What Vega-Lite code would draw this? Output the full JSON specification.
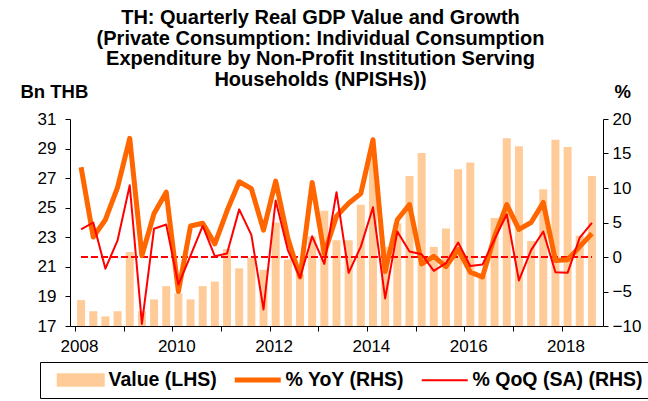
{
  "$schema": "https://vega.github.io/schema/vega-lite/v6.json",
  "width": 533,
  "height": 207,
  "autosize": {"type": "none"},
  "padding": {"left": 70, "top": 119, "right": 45, "bottom": 75},
  "background": "white",
  "config": {
    "view": {"stroke": null},
    "font": "Liberation Sans",
    "axis": {"labelFont": "Liberation Sans", "labelFontSize": 17, "labelColor": "black", "domainColor": "black", "tickColor": "black", "grid": false, "domainWidth": 1, "tickWidth": 1, "titleFont": "Liberation Sans", "titleColor": "black"}
  },
  "title": {
    "text": ["TH: Quarterly Real GDP Value and Growth", "(Private Consumption: Individual Consumption", "Expenditure by Non-Profit Institution Serving", "Households (NPISHs))"],
    "anchor": "middle",
    "frame": "group",
    "dx": -16,
    "offset": -8,
    "fontSize": 20,
    "fontWeight": "bold",
    "lineHeight": 20.7,
    "color": "black",
    "font": "Liberation Sans"
  },
  "data": {
    "values": [
      {"t": 2008.125, "value": 18.75, "yoy": 13.0, "qoq": 4.0},
      {"t": 2008.375, "value": 18.0, "yoy": 2.9, "qoq": 5.0},
      {"t": 2008.625, "value": 17.65, "yoy": 5.4, "qoq": -1.7},
      {"t": 2008.875, "value": 18.0, "yoy": 10.1, "qoq": 2.4},
      {"t": 2009.125, "value": 22.0, "yoy": 17.2, "qoq": 10.4},
      {"t": 2009.375, "value": 18.0, "yoy": 0.2, "qoq": -9.7},
      {"t": 2009.625, "value": 18.8, "yoy": 6.3, "qoq": 4.1},
      {"t": 2009.875, "value": 19.7, "yoy": 9.4, "qoq": 4.7},
      {"t": 2010.125, "value": 19.2, "yoy": -5.0, "qoq": -4.0},
      {"t": 2010.375, "value": 18.8, "yoy": 4.5, "qoq": 0.2},
      {"t": 2010.625, "value": 19.7, "yoy": 4.9, "qoq": 4.5},
      {"t": 2010.875, "value": 20.0, "yoy": 1.9, "qoq": 0.1},
      {"t": 2011.125, "value": 22.2, "yoy": 6.7, "qoq": 0.5},
      {"t": 2011.375, "value": 20.9, "yoy": 10.9, "qoq": 6.9},
      {"t": 2011.625, "value": 21.6, "yoy": 9.9, "qoq": 3.2},
      {"t": 2011.875, "value": 20.8, "yoy": 3.9, "qoq": -7.6},
      {"t": 2012.125, "value": 24.0, "yoy": 11.0, "qoq": 8.2},
      {"t": 2012.375, "value": 21.5, "yoy": 2.7, "qoq": 1.0},
      {"t": 2012.625, "value": 20.5, "yoy": -2.9, "qoq": -3.0},
      {"t": 2012.875, "value": 23.05, "yoy": 10.8, "qoq": 3.0},
      {"t": 2013.125, "value": 24.8, "yoy": 0.5, "qoq": -1.0},
      {"t": 2013.375, "value": 22.8, "yoy": 5.9, "qoq": 9.4},
      {"t": 2013.625, "value": 22.8, "yoy": 7.8, "qoq": -2.3},
      {"t": 2013.875, "value": 25.2, "yoy": 9.2, "qoq": 1.5},
      {"t": 2014.125, "value": 28.5, "yoy": 17.0, "qoq": 7.2},
      {"t": 2014.375, "value": 22.35, "yoy": -2.1, "qoq": -6.0},
      {"t": 2014.625, "value": 23.95, "yoy": 5.4, "qoq": 3.7},
      {"t": 2014.875, "value": 27.15, "yoy": 7.6, "qoq": 0.8},
      {"t": 2015.125, "value": 28.7, "yoy": -1.0, "qoq": 0.4},
      {"t": 2015.375, "value": 22.35, "yoy": 0.1, "qoq": -2.0},
      {"t": 2015.625, "value": 23.6, "yoy": -1.4, "qoq": -0.9},
      {"t": 2015.875, "value": 27.6, "yoy": 1.1, "qoq": 2.1},
      {"t": 2016.125, "value": 28.05, "yoy": -2.2, "qoq": -1.3},
      {"t": 2016.375, "value": 20.4, "yoy": -2.9, "qoq": -1.1},
      {"t": 2016.625, "value": 24.3, "yoy": 3.0, "qoq": 2.6},
      {"t": 2016.875, "value": 29.7, "yoy": 7.6, "qoq": 6.2},
      {"t": 2017.125, "value": 29.15, "yoy": 4.0, "qoq": -3.4},
      {"t": 2017.375, "value": 22.75, "yoy": 5.0, "qoq": 1.0},
      {"t": 2017.625, "value": 26.25, "yoy": 7.9, "qoq": 3.7},
      {"t": 2017.875, "value": 29.6, "yoy": -0.5, "qoq": -2.2},
      {"t": 2018.125, "value": 29.1, "yoy": -0.4, "qoq": -2.3},
      {"t": 2018.375, "value": 23.1, "yoy": 1.5, "qoq": 2.8},
      {"t": 2018.625, "value": 27.15, "yoy": 3.4, "qoq": 4.95}
    ]
  },
  "encoding": {
    "x": {
      "field": "t",
      "type": "quantitative",
      "scale": {"domain": [2008, 2018.75], "nice": false, "zero": false},
      "axis": {"values": [2008, 2009, 2010, 2011, 2012, 2013, 2014, 2015, 2016, 2017, 2018], "labelExpr": "datum.value % 2 == 0 ? datum.value : ''", "title": null, "tickSize": 5, "labelPadding": 7, "labelOffset": 4}
    }
  },
  "layer": [
    {
      "mark": {"type": "bar", "size": 8},
      "encoding": {
        "y": {
          "field": "value",
          "type": "quantitative",
          "scale": {"domain": [17, 31], "zero": false, "nice": false},
          "axis": {"values": [17, 19, 21, 23, 25, 27, 29, 31], "title": "Bn THB", "titleAngle": 0, "titleX": -50, "titleY": -28, "titleAlign": "left", "titleBaseline": "middle", "titleFontSize": 18.5, "titleFontWeight": "bold", "tickSize": 5, "labelPadding": 9}
        },
        "y2": {"datum": 17},
        "color": {
          "datum": "Value (LHS)",
          "type": "nominal",
          "scale": {"domain": ["Value (LHS)", "% YoY (RHS)", "% QoQ (SA) (RHS)"], "range": ["#FFCC99", "#FF6600", "#FF0000"]},
          "legend": {
            "orient": "none",
            "legendX": -30,
            "legendY": 243,
            "direction": "horizontal",
            "columns": 3,
            "title": null,
            "strokeColor": "black",
            "padding": 8,
            "labelFontSize": 19.5,
            "labelFontWeight": "bold",
            "labelFont": "Liberation Sans",
            "labelColor": "black",
            "labelLimit": 400,
            "symbolSize": 324,
            "labelOffset": 41,
            "columnPadding": 7,
            "encode": {
              "symbols": {
                "update": {
                  "shape": {"signal": "datum.value == 'Value (LHS)' ? 'M0,-0.64H5.11V0.64H0Z' : 'M0,0H5.11'"},
                  "fill": {"signal": "datum.value == 'Value (LHS)' ? '#FFCC99' : 'transparent'"},
                  "stroke": {"signal": "datum.value == 'Value (LHS)' ? 'transparent' : (datum.value == '% YoY (RHS)' ? '#FF6600' : '#FF0000')"},
                  "strokeWidth": {"signal": "datum.value == '% YoY (RHS)' ? 5 : 2"},
                  "opacity": {"value": 1}
                }
              }
            }
          }
        }
      }
    },
    {
      "layer": [
        {
          "mark": {"type": "rule", "color": "#FF0000", "strokeDash": [6, 4], "strokeWidth": 2},
          "encoding": {
            "x": {"datum": 2008.125},
            "x2": {"datum": 2018.625},
            "y": {"datum": 0, "type": "quantitative", "scale": {"domain": [-10, 20], "nice": false, "zero": false}, "axis": {"orient": "right", "values": [-10, -5, 0, 5, 10, 15, 20], "title": "%", "titleAngle": 0, "titleX": 11, "titleY": -28, "titleAlign": "left", "titleBaseline": "middle", "titleFontSize": 18.5, "titleFontWeight": "bold", "tickSize": 5, "labelPadding": 4}}
          }
        },
        {
          "mark": {"type": "line", "strokeWidth": 5, "strokeJoin": "round"},
          "encoding": {
            "y": {"field": "yoy", "type": "quantitative", "scale": {"domain": [-10, 20], "nice": false, "zero": false}, "axis": {"orient": "right", "values": [-10, -5, 0, 5, 10, 15, 20], "title": "%", "titleAngle": 0, "titleX": 11, "titleY": -28, "titleAlign": "left", "titleBaseline": "middle", "titleFontSize": 18.5, "titleFontWeight": "bold", "tickSize": 5, "labelPadding": 4}},
            "color": {"datum": "% YoY (RHS)", "type": "nominal"}
          }
        },
        {
          "mark": {"type": "line", "strokeWidth": 2, "strokeJoin": "round"},
          "encoding": {
            "y": {"field": "qoq", "type": "quantitative", "scale": {"domain": [-10, 20], "nice": false, "zero": false}, "axis": {"orient": "right", "values": [-10, -5, 0, 5, 10, 15, 20], "title": "%", "titleAngle": 0, "titleX": 11, "titleY": -28, "titleAlign": "left", "titleBaseline": "middle", "titleFontSize": 18.5, "titleFontWeight": "bold", "tickSize": 5, "labelPadding": 4}},
            "color": {"datum": "% QoQ (SA) (RHS)", "type": "nominal"}
          }
        }
      ]
    }
  ],
  "resolve": {"scale": {"y": "independent"}}
}
